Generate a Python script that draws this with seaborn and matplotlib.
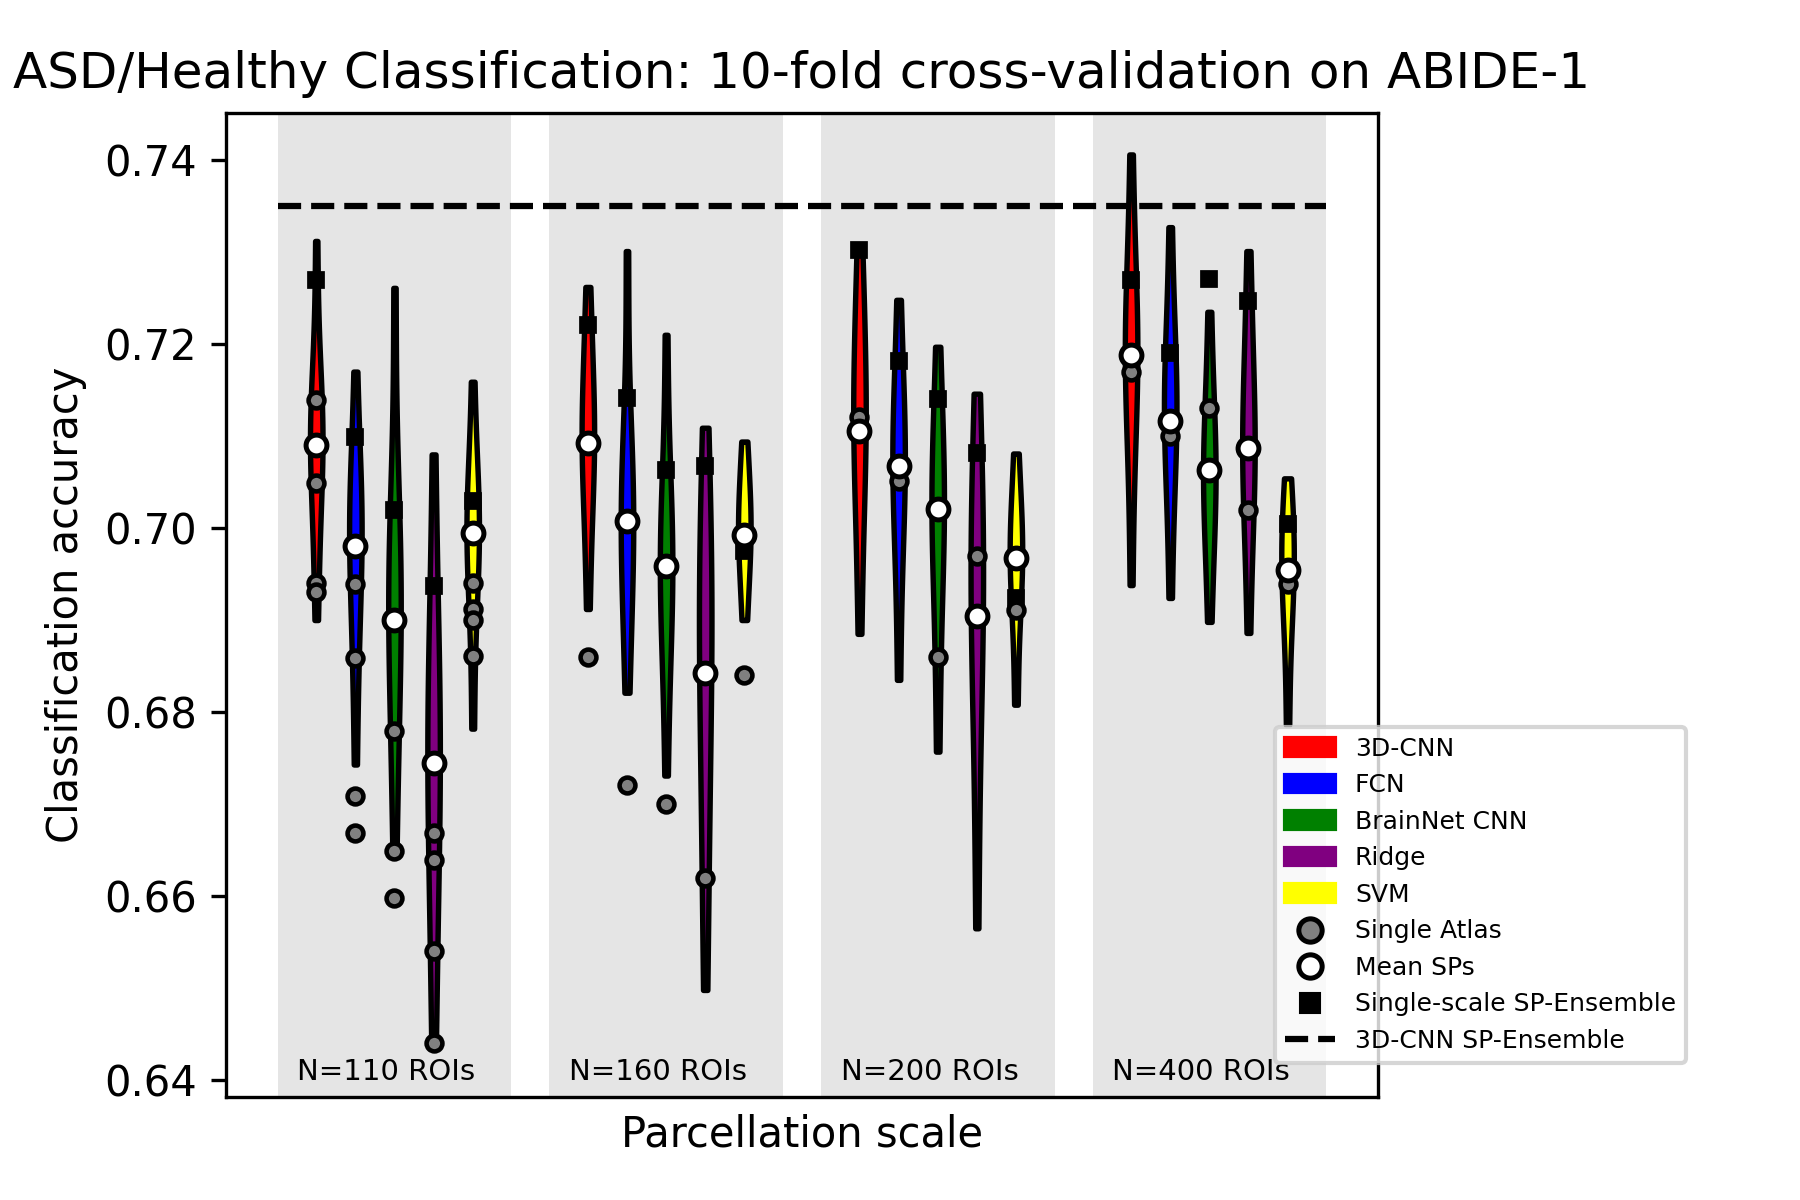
import numpy as np
import pandas as pd
import matplotlib
matplotlib.use("Agg")
import matplotlib.pyplot as plt
import seaborn as sns
from matplotlib.patches import Patch
from matplotlib.lines import Line2D

# parcellation scales and models
scales = [110, 160, 200, 400]
scale_labels = ["N=110 ROIs", "N=160 ROIs", "N=200 ROIs", "N=400 ROIs"]
models = ["3D-CNN", "FCN", "BrainNet CNN", "Ridge", "SVM"]
colors = ["red", "blue", "green", "purple", "yellow"]

# accuracies of the stochastic parcellations (one list per scale)
sp_3dcnn = [[0.6900, 0.6960, 0.7010, 0.7050, 0.7075, 0.7090, 0.7100, 0.7110, 0.7125, 0.7150, 0.7200, 0.7312],
            [0.6912, 0.6990, 0.7040, 0.7070, 0.7090, 0.7110, 0.7130, 0.7160, 0.7210, 0.7262],
            [0.6885, 0.6980, 0.7040, 0.7080, 0.7110, 0.7130, 0.7160, 0.7200, 0.7250, 0.7302],
            [0.6938, 0.7060, 0.7120, 0.7160, 0.7180, 0.7200, 0.7220, 0.7250, 0.7300, 0.7406]]
sp_fcn = [[0.6743, 0.6850, 0.6900, 0.6950, 0.6980, 0.7000, 0.7020, 0.7040, 0.7070, 0.7170],
          [0.6821, 0.6900, 0.6950, 0.6990, 0.7010, 0.7030, 0.7060, 0.7100, 0.7301],
          [0.6835, 0.6950, 0.7010, 0.7050, 0.7070, 0.7090, 0.7120, 0.7160, 0.7248],
          [0.6924, 0.7030, 0.7080, 0.7110, 0.7130, 0.7150, 0.7180, 0.7220, 0.7327]]
sp_brainnet = [[0.6649, 0.6750, 0.6820, 0.6870, 0.6900, 0.6930, 0.6960, 0.6990, 0.7030, 0.7261],
               [0.6731, 0.6850, 0.6900, 0.6940, 0.6960, 0.6980, 0.7010, 0.7050, 0.7210],
               [0.6757, 0.6870, 0.6950, 0.6990, 0.7020, 0.7040, 0.7070, 0.7110, 0.7197],
               [0.6898, 0.6970, 0.7010, 0.7040, 0.7060, 0.7080, 0.7110, 0.7150, 0.7235]]
sp_ridge = [[0.6440, 0.6540, 0.6640, 0.6690, 0.6730, 0.6770, 0.6810, 0.6860, 0.6930, 0.7080],
            [0.6498, 0.6620, 0.6710, 0.6780, 0.6840, 0.6890, 0.6930, 0.6970, 0.7020, 0.7109],
            [0.6565, 0.6720, 0.6810, 0.6870, 0.6910, 0.6950, 0.6980, 0.7020, 0.7070, 0.7146],
            [0.6886, 0.6980, 0.7030, 0.7060, 0.7080, 0.7100, 0.7130, 0.7170, 0.7220, 0.7301]]
sp_svm = [[0.6782, 0.6900, 0.6950, 0.6980, 0.7000, 0.7010, 0.7030, 0.7060, 0.7159],
          [0.6900, 0.6950, 0.6980, 0.7000, 0.7020, 0.7050, 0.7094],
          [0.6808, 0.6910, 0.6950, 0.6970, 0.6990, 0.7010, 0.7081],
          [0.6786, 0.6880, 0.6920, 0.6950, 0.6970, 0.6990, 0.7010, 0.7054]]

# mean of SPs, per scale -> per model
mean_sp = [[0.7090, 0.6981, 0.6900, 0.6745, 0.6995],
           [0.7092, 0.7008, 0.6959, 0.6842, 0.6992],
           [0.7105, 0.7067, 0.7021, 0.6904, 0.6967],
           [0.7188, 0.7116, 0.7063, 0.7087, 0.6954]]

# single-scale SP-ensemble
ensemble = [[0.7270, 0.7099, 0.7020, 0.6937, 0.7029],
            [0.7221, 0.7141, 0.7063, 0.7067, 0.6975],
            [0.7302, 0.7181, 0.7140, 0.7081, 0.6924],
            [0.7270, 0.7190, 0.7271, 0.7247, 0.7004]]

# single atlas results
single_atlas = [[[0.7139, 0.7049, 0.6940, 0.6931], [0.6939, 0.6859, 0.6709, 0.6669],
                 [0.6779, 0.6649, 0.6598], [0.6669, 0.6639, 0.6540, 0.6440],
                 [0.6940, 0.6912, 0.6900, 0.6861]],
                [[0.6860], [0.6721], [0.6700], [0.6620], [0.6840]],
                [[0.7121], [0.7051], [0.6860], [0.6970], [0.6911]],
                [[0.7170], [0.7100], [0.7130], [0.7020], [0.6939]]]

ens_3dcnn = 0.735   # 3D-CNN multi-scale SP-ensemble

sp_all = [sp_3dcnn, sp_fcn, sp_brainnet, sp_ridge, sp_svm]
rows = []
for m, model in enumerate(models):
    for s, sc in enumerate(scales):
        for v in sp_all[m][s]:
            rows.append({"scale": str(sc), "model": model, "acc": v})
df = pd.DataFrame(rows)

fig = plt.figure(figsize=(6, 4), dpi=300)
ax = fig.add_axes([0.1256, 0.0861, 0.6398, 0.8197])

width = 0.72
half_span = 0.43
for g in range(len(scales)):
    ax.axvspan(g - half_span, g + half_span, color="#e5e5e5", lw=0, zorder=0)

sns.violinplot(data=df, x="scale", y="acc", hue="model",
               order=[str(s) for s in scales], hue_order=models,
               palette=dict(zip(models, colors)), width=width, gap=0.68,
               cut=0, inner=None, density_norm="width", linewidth=1.3,
               linecolor="black", saturation=1, legend=False, ax=ax)
for coll in ax.collections:
    coll.set_joinstyle("round")
    coll.set_capstyle("round")

ax.hlines(ens_3dcnn, -half_span, len(scales) - 1 + half_span,
          colors="black", linestyles="--", lw=1.5, zorder=1.5)

each = width / len(models)
for s in range(len(scales)):
    for m in range(len(models)):
        xpos = s + (m - (len(models) - 1) / 2) * each
        ax.plot([xpos], [ensemble[s][m]], "s", ms=3.5, mfc="black", mec="black",
                mew=0.9, zorder=3)
        ax.plot([xpos] * len(single_atlas[s][m]), single_atlas[s][m], "o", ms=3.8,
                mfc="gray", mec="black", mew=1.1, zorder=4)
        ax.plot([xpos], [mean_sp[s][m]], "o", ms=5.0, mfc="white", mec="black",
                mew=1.2, zorder=5)
    ax.text(s - 0.03, 0.64, scale_labels[s], ha="center", va="baseline", fontsize=7)

ax.set_xlim(-0.62, len(scales) - 1 + 0.62)
ax.set_ylim(0.6382, 0.7451)
ax.set_yticks([0.64, 0.66, 0.68, 0.70, 0.72, 0.74])
ax.set_yticklabels(["0.64", "0.66", "0.68", "0.70", "0.72", "0.74"], fontsize=10)
ax.set_xticks([])
ax.set_xlabel("Parcellation scale", fontsize=10)
ax.set_ylabel("Classification accuracy", fontsize=10)
ax.set_title("ASD/Healthy Classification: 10-fold cross-validation on ABIDE-1", fontsize=12)

handles = [Patch(facecolor=c, edgecolor=c, lw=1, label=mo) for c, mo in zip(colors, models)]
handles += [Line2D([], [], ls="", marker="o", ms=5.6, mfc="gray", mec="black", mew=1.2, label="Single Atlas"),
            Line2D([], [], ls="", marker="o", ms=5.6, mfc="white", mec="black", mew=1.2, label="Mean SPs"),
            Line2D([], [], ls="", marker="s", ms=4.8, mfc="black", mec="black", mew=0.5,
                   label="Single-scale SP-Ensemble"),
            Line2D([], [], ls="--", color="black", lw=1.5, label="3D-CNN SP-Ensemble")]
ax.legend(handles=handles, loc="lower left", bbox_to_anchor=(0.9108, 0.0343),
          borderaxespad=0, fontsize=6)

fig.savefig("out.png", dpi=300)
